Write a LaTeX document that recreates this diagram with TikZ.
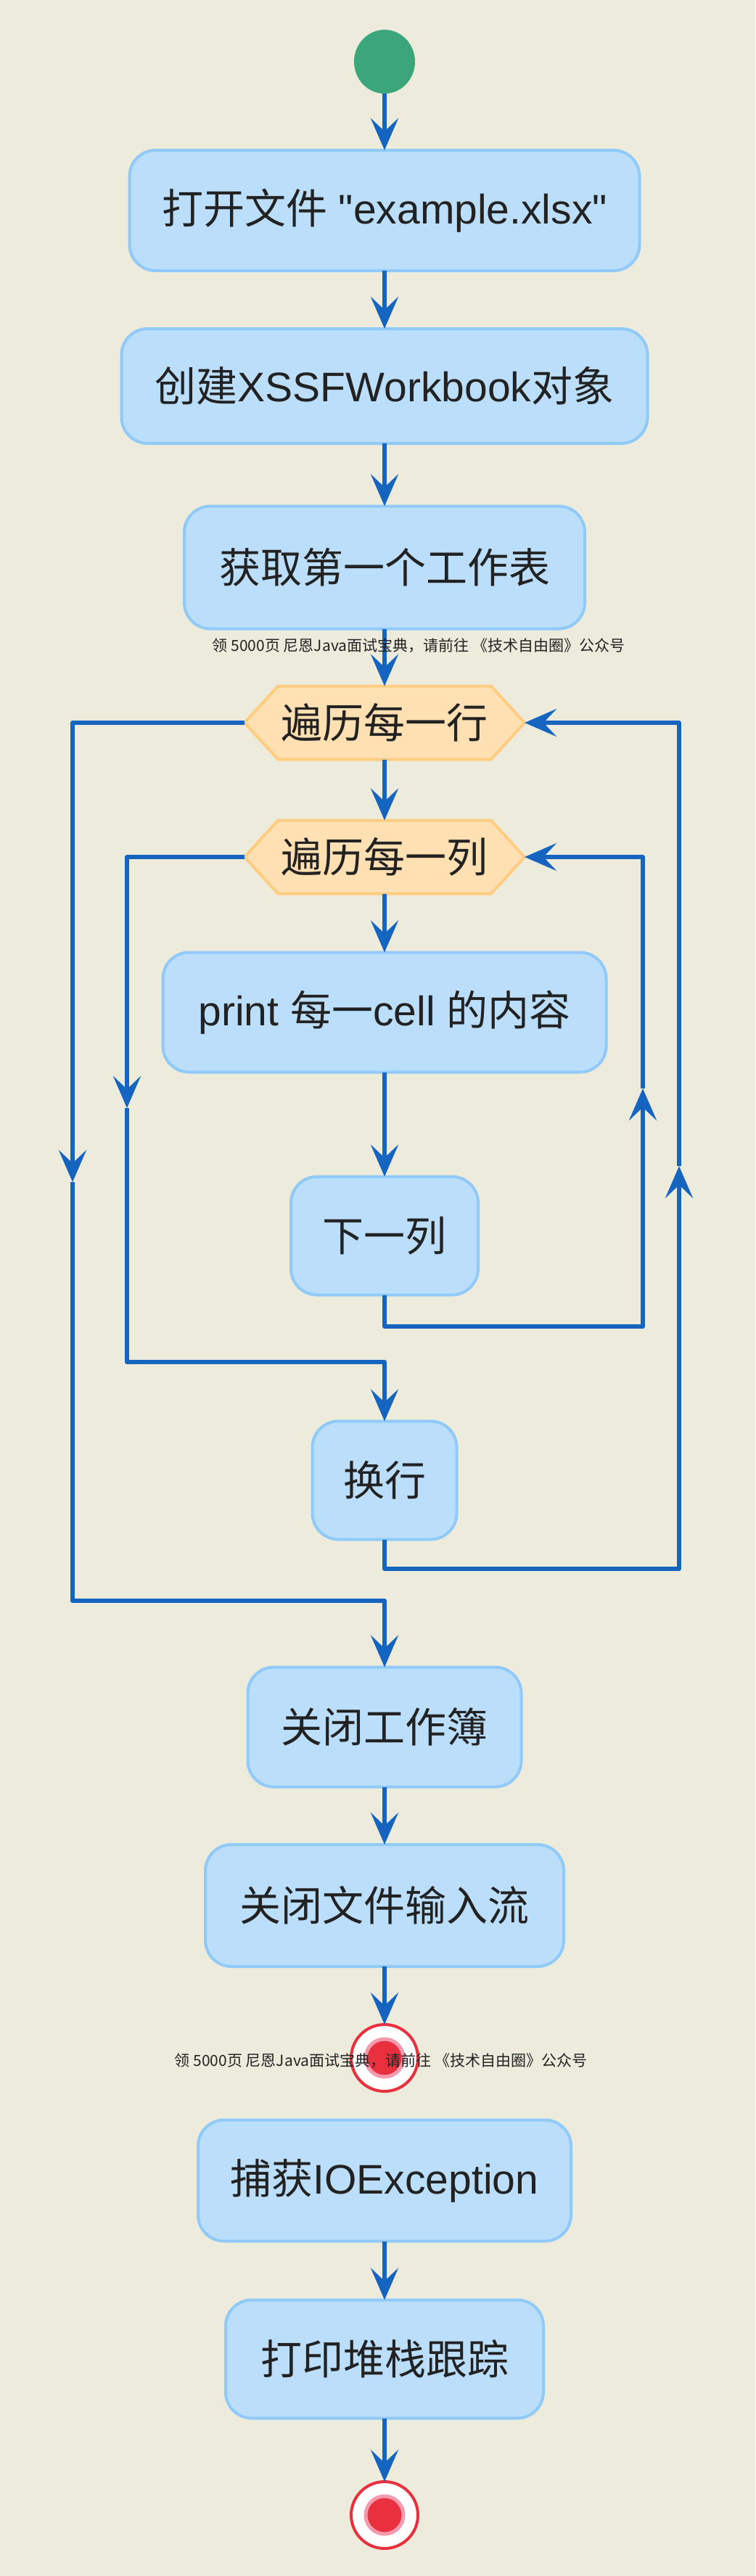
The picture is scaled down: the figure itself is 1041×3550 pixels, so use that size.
\documentclass[tikz,border=0pt]{standalone}
\usepackage{fontspec}
\setmainfont{Liberation Sans}
\newfontfamily\cjk{Noto Sans CJK SC}
\newcommand\dquote{\XeTeXglyph\XeTeXcharglyph"22\relax}
\usetikzlibrary{arrows.meta,backgrounds,shapes.geometric}
\definecolor{bgc}{HTML}{EDEBDC}
\definecolor{actfill}{HTML}{BBDEFB}
\definecolor{actdraw}{HTML}{90CAF9}
\definecolor{hexfill}{HTML}{FFE0B2}
\definecolor{hexdraw}{HTML}{FFCC80}
\definecolor{flowc}{HTML}{1565C0}
\definecolor{startc}{HTML}{3BA67B}
\definecolor{endred}{HTML}{E8303E}
\definecolor{endpink}{HTML}{F59AAE}
\definecolor{txt}{HTML}{222222}
\begin{document}
\begin{tikzpicture}[x=0.5pt,y=-0.5pt,
  act/.style={rectangle, rounded corners=18pt, fill=actfill, draw=actdraw, line width=2pt,
    inner sep=0pt, outer sep=0pt, text=txt, font=\fontsize{28.5pt}{32pt}\selectfont},
  hexnode/.style={rectangle, inner sep=0pt, outer sep=0pt, text=txt,
    minimum width=193pt, minimum height=50.5pt, font=\fontsize{28.5pt}{32pt}\selectfont\cjk},
  hexshape/.style={fill=hexfill, draw=hexdraw, line width=2pt, line join=round},
  flow/.style={draw=flowc, line width=3pt, line join=round,
    -{Stealth[length=22pt,width=19pt,inset=9pt]}},
  startnode/.style={ellipse, fill=startc, minimum width=42pt, minimum height=44pt, inner sep=0pt, outer sep=0pt},
  endouter/.style={circle, fill=white, draw=endred, line width=2pt, minimum size=46pt, inner sep=0pt, outer sep=0pt},
  enddot/.style={circle, fill=endred, draw=endpink, line width=2.5pt, minimum size=26pt, inner sep=0pt},
  wm/.style={font=\fontsize{10.5pt}{12pt}\selectfont\cjk, text=txt, inner sep=0pt}
]
% nodes
\node[startnode] (st) at (530,85) {};
\node[act, minimum width=351.5pt, minimum height=83pt] (b1) at (530,290) {{\cjk 打开文件} \dquote example.xlsx\dquote};
\node[act, minimum width=362.5pt, minimum height=79pt] (b2) at (530,532) {{\cjk 创建}XSSFWorkbook{\cjk 对象}};
\node[act, minimum width=276pt, minimum height=84.5pt] (b3) at (530,782) {\cjk 获取第一个工作表};
\node[hexnode] (h1) at (530,996) {遍历每一行};
\node[hexnode] (h2) at (530,1181) {遍历每一列};
\node[act, minimum width=305.5pt, minimum height=82.5pt] (pr) at (530,1395) {print {\cjk 每一}cell {\cjk 的内容}};
\node[act, minimum width=129pt, minimum height=81.5pt] (nx) at (530,1703) {\cjk 下一列};
\node[act, minimum width=99.5pt, minimum height=81.5pt] (hr) at (530,2040) {\cjk 换行};
\node[act, minimum width=188.5pt, minimum height=82.5pt] (cw) at (530,2380) {\cjk 关闭工作簿};
\node[act, minimum width=247pt, minimum height=84pt] (cf) at (530,2626) {\cjk 关闭文件输入流};
\node[endouter] (e1) at (530,2836) {};
\node[enddot] (e1d) at (530,2836) {};
\node[act, minimum width=257pt, minimum height=83.5pt] (ce) at (530,3005) {{\cjk 捕获}IOException};
\node[act, minimum width=219pt, minimum height=81.5pt] (ps) at (530,3251) {\cjk 打印堆栈跟踪};
\node[endouter] (e2) at (530,3466) {};
\node[enddot] (e2d) at (530,3466) {};

% loop corner coordinates
\coordinate (ir1) at (530,1828);
\coordinate (ir2) at (886,1828);
\coordinate (ir3) at (886,1500);
\coordinate (ir4) at (886,1181);
\coordinate (il1) at (175,1181);
\coordinate (il2) at (175,1527);
\coordinate (il3) at (175,1877);
\coordinate (il4) at (530,1877);
\coordinate (or1) at (530,2162);
\coordinate (or2) at (936,2162);
\coordinate (or3) at (936,1607);
\coordinate (or4) at (936,996);
\coordinate (ol1) at (100,996);
\coordinate (ol2) at (100,1629);
\coordinate (ol3) at (100,2206);
\coordinate (ol4) at (530,2206);

% background and hexagons
\begin{scope}[on background layer]
\fill[bgc] (0,0) rectangle (1041,3550);
\foreach \h in {h1,h2}{
  \filldraw[hexshape] (\h.west) -- ([xshift=23pt]\h.north west) -- ([xshift=-23pt]\h.north east)
    -- (\h.east) -- ([xshift=-23pt]\h.south east) -- ([xshift=23pt]\h.south west) -- cycle;
}
\end{scope}

% connectors
\draw[flow] (st) -- (b1);
\draw[flow] (b1) -- (b2);
\draw[flow] (b2) -- (b3);
\draw[flow] (b3) -- (h1);
\draw[flow] (h1) -- (h2);
\draw[flow] (h2) -- (pr);
\draw[flow] (pr) -- (nx);
\draw[flow] (nx.south) -- (ir1) -- (ir2) -- (ir3);
\draw[flow] (ir3) -- (ir4) -- (h2.east);
\draw[flow] (h2.west) -- (il1) -- (il2);
\draw[flow] (il2) -- (il3) -- (il4) -- (hr.north);
\draw[flow] (hr.south) -- (or1) -- (or2) -- (or3);
\draw[flow] (or3) -- (or4) -- (h1.east);
\draw[flow] (h1.west) -- (ol1) -- (ol2);
\draw[flow] (ol2) -- (ol3) -- (ol4) -- (cw.north);
\draw[flow] (cw) -- (cf);
\draw[flow] (cf) -- (e1);
\draw[flow] (ce) -- (ps);
\draw[flow] (ps) -- (e2);

% watermarks
\node[wm] (wm1) at (577,890) {领 5000页 尼恩Java面试宝典，请前往 《技术自由圈》公众号};
\node[wm] (wm2) at (525,2840) {领 5000页 尼恩Java面试宝典，请前往 《技术自由圈》公众号};
\end{tikzpicture}
\end{document}
